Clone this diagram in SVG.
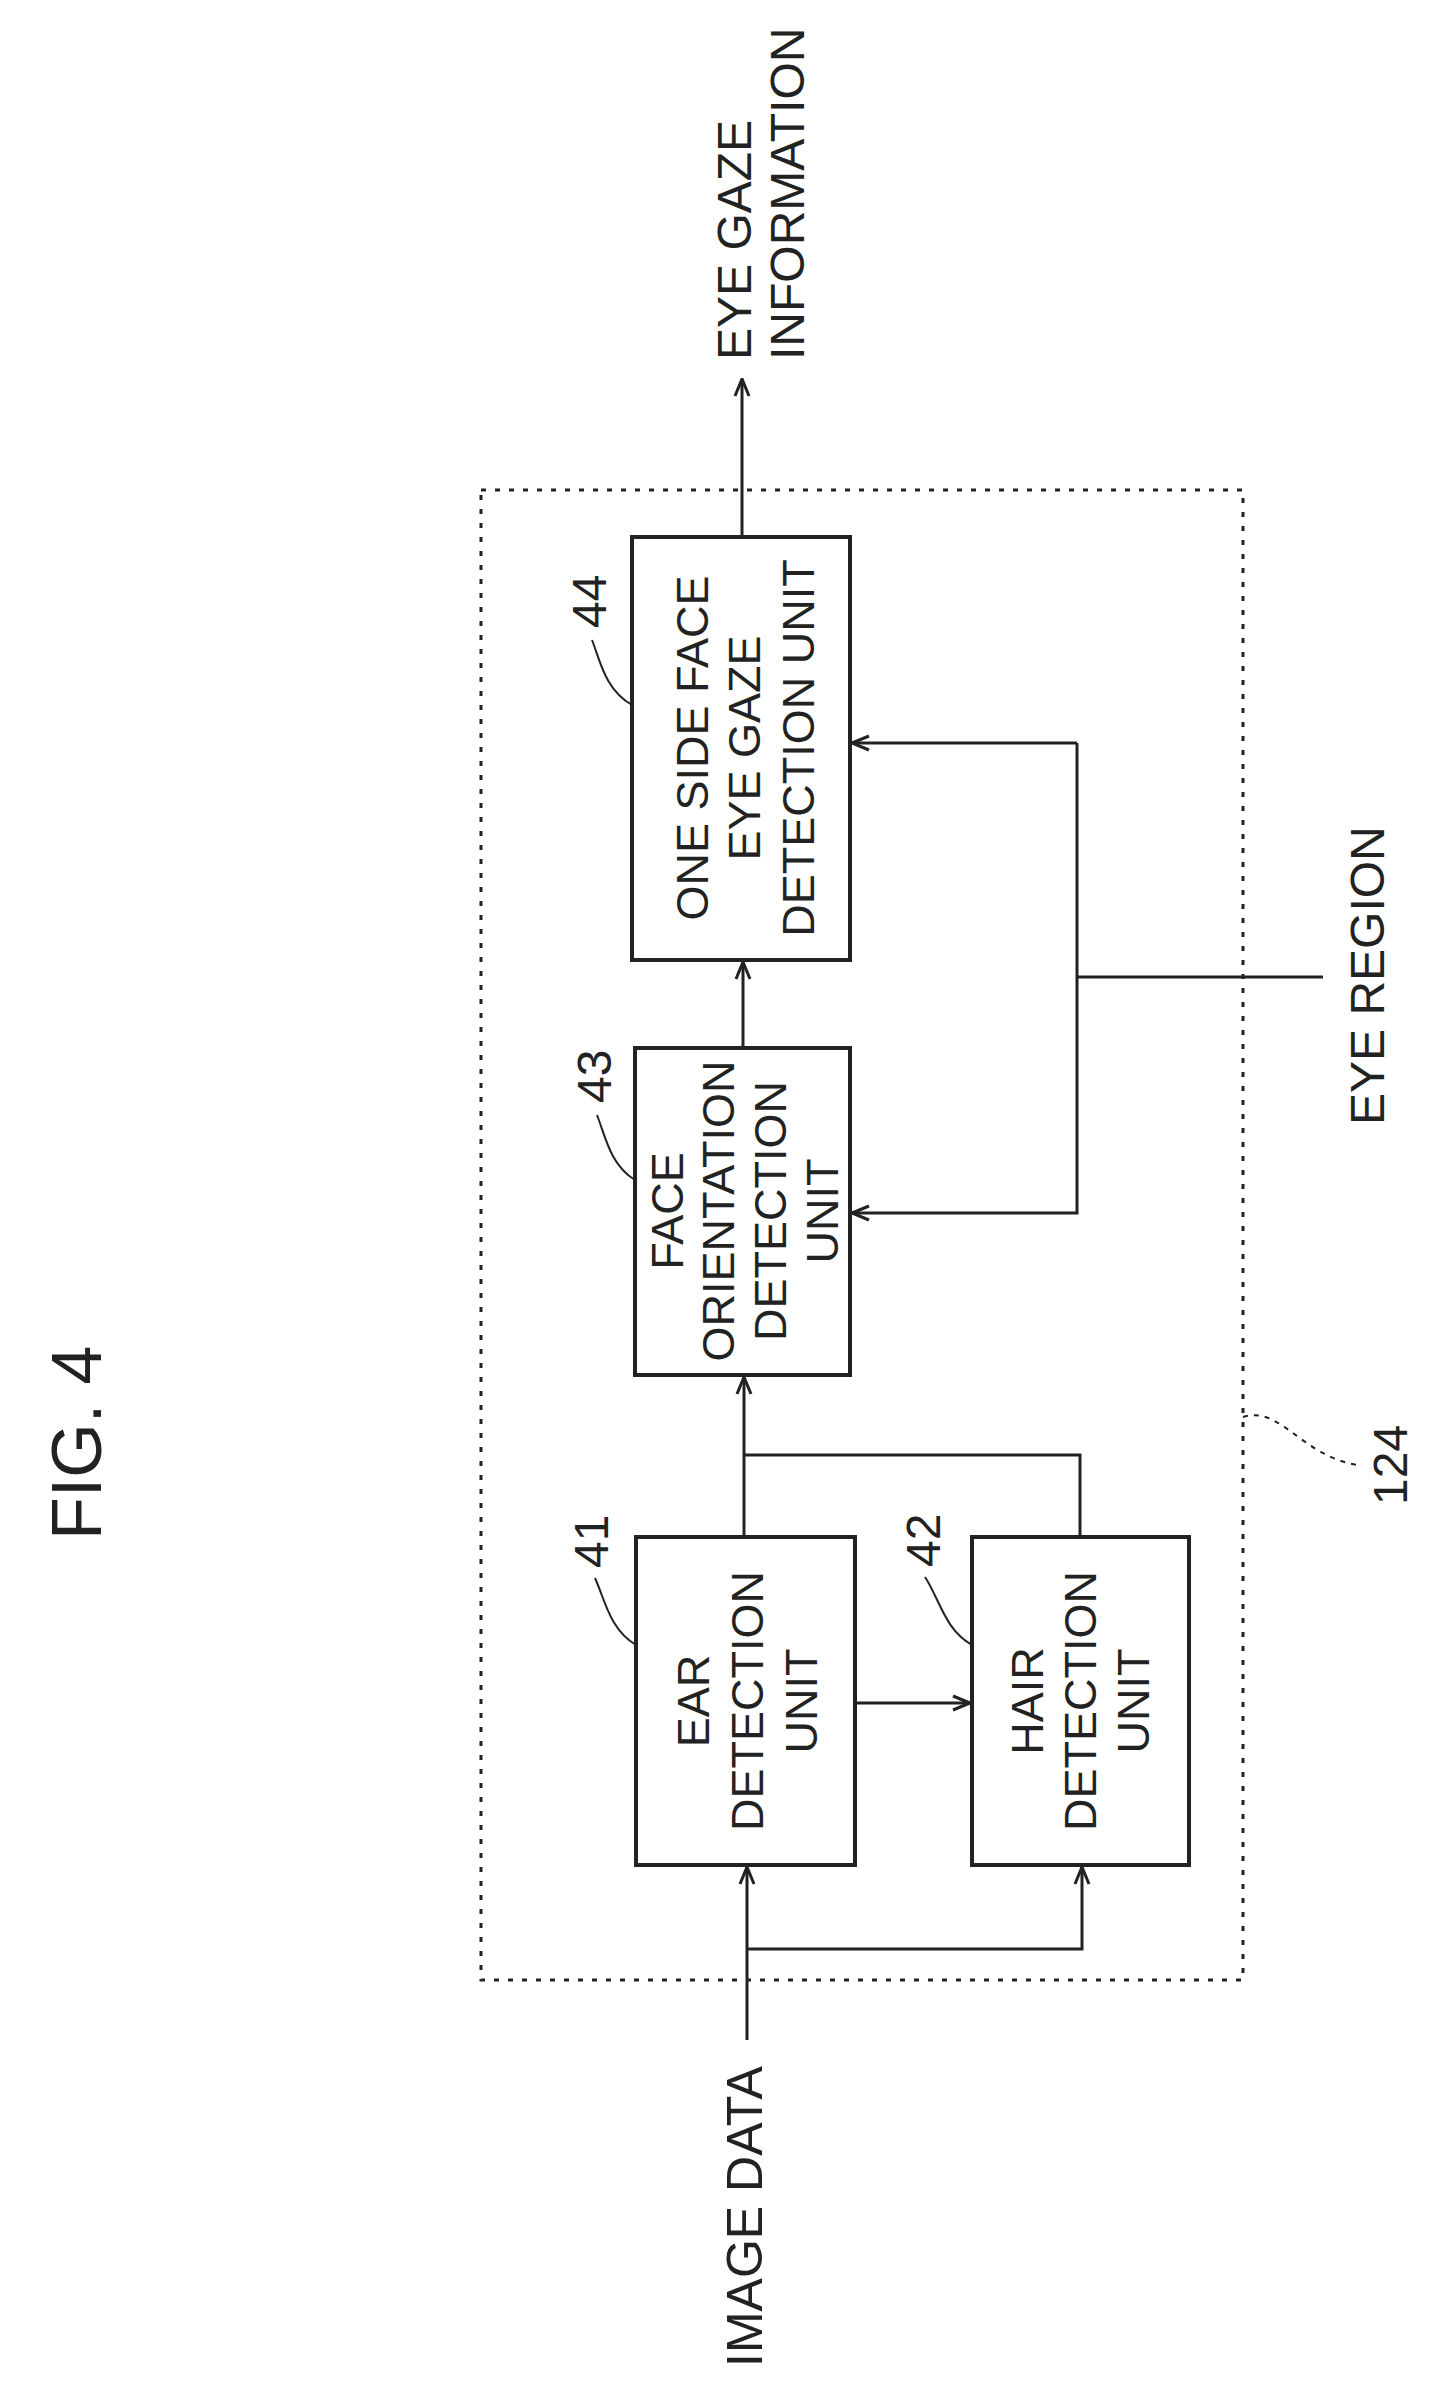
<svg xmlns="http://www.w3.org/2000/svg" width="1430" height="2389" viewBox="0 0 1430 2389">
<style>
.box{fill:none;stroke:#222;stroke-width:4}
.ln{fill:none;stroke:#222;stroke-width:3}
.ld{fill:none;stroke:#222;stroke-width:2}
.t{font-family:"Liberation Sans",Arial,sans-serif;font-size:45px;fill:#222;text-anchor:middle;dominant-baseline:central}
.o{font-family:"Liberation Sans",Arial,sans-serif;font-size:48px;fill:#222}
</style>
<defs>
<marker id="ah" viewBox="0 0 20 20" refX="19" refY="10" markerWidth="20" markerHeight="20" markerUnits="userSpaceOnUse" orient="auto">
<path d="M2,3 L19,10 L2,17" fill="none" stroke="#222" stroke-width="3"/>
</marker>
</defs>
<rect x="0" y="0" width="1430" height="2389" fill="#fff"/>
<g id="frame124">
<rect x="481" y="490" width="762" height="1490" fill="none" stroke="#222" stroke-width="3" stroke-dasharray="5 9"/>
<path class="ld" d="M1243,1417 C1280,1405 1300,1455 1357,1465" stroke-dasharray="5 6"/>
<text class="o" transform="translate(1407,1505) rotate(-90)">124</text>
</g>
<g id="node44">
<rect class="box" x="632" y="537" width="218" height="423"/>
<g transform="translate(742,748) rotate(-90)">
<text class="t" x="0" y="-50">ONE SIDE FACE</text>
<text class="t" x="0" y="2">EYE GAZE</text>
<text class="t" x="0" y="56">DETECTION UNIT</text>
</g>
<path class="ld" d="M632,705 C605,690 600,660 592,640"/>
<text class="o" transform="translate(606,628) rotate(-90)">44</text>
</g>
<g id="node43">
<rect class="box" x="635" y="1048" width="215" height="327"/>
<g transform="translate(744,1211) rotate(-90)">
<text class="t" x="0" y="-77">FACE</text>
<text class="t" x="0" y="-26">ORIENTATION</text>
<text class="t" x="0" y="26">DETECTION</text>
<text class="t" x="0" y="78">UNIT</text>
</g>
<path class="ld" d="M635,1180 C610,1165 605,1135 597,1115"/>
<text class="o" transform="translate(611,1103) rotate(-90)">43</text>
</g>
<g id="node41">
<rect class="box" x="636" y="1537" width="219" height="328"/>
<g transform="translate(745,1701) rotate(-90)">
<text class="t" x="0" y="-52">EAR</text>
<text class="t" x="0" y="2">DETECTION</text>
<text class="t" x="0" y="56">UNIT</text>
</g>
<path class="ld" d="M636,1645 C610,1630 605,1600 595,1578"/>
<text class="o" transform="translate(608,1568) rotate(-90)">41</text>
</g>
<g id="node42">
<rect class="box" x="972" y="1537" width="217" height="328"/>
<g transform="translate(1080,1701) rotate(-90)">
<text class="t" x="0" y="-53">HAIR</text>
<text class="t" x="0" y="0">DETECTION</text>
<text class="t" x="0" y="53">UNIT</text>
</g>
<path class="ld" d="M972,1645 C945,1630 940,1600 925,1577"/>
<text class="o" transform="translate(940,1567) rotate(-90)">42</text>
</g>
<g id="connectors">
<path class="ln" d="M742,537 L742,379" marker-end="url(#ah)"/>
<path class="ln" d="M743,1048 L743,962" marker-end="url(#ah)"/>
<path class="ln" d="M744,1537 L744,1377" marker-end="url(#ah)"/>
<path class="ln" d="M1080,1537 L1080,1455 L744,1455"/>
<path class="ln" d="M855,1703 L970,1703" marker-end="url(#ah)"/>
<path class="ln" d="M747,2040 L747,1867" marker-end="url(#ah)"/>
<path class="ln" d="M747,1949 L1082,1949 L1082,1867" marker-end="url(#ah)"/>
<path class="ln" d="M1077,743 L852,743" marker-end="url(#ah)"/>
<path class="ln" d="M1077,743 L1077,1213 L852,1213" marker-end="url(#ah)"/>
<path class="ln" d="M1077,977 L1323,977"/>
</g>
<g id="labels">
<text class="o" transform="translate(751,360) rotate(-90)">EYE GAZE</text>
<text class="o" transform="translate(804,360) rotate(-90)">INFORMATION</text>
<text class="o" transform="translate(1384,1125) rotate(-90)">EYE REGION</text>
<text class="o" style="font-size:50px" transform="translate(762,2367) rotate(-90)">IMAGE DATA</text>
<text class="o" style="font-size:70px" transform="translate(101,1540) rotate(-90)">FIG. 4</text>
</g>
</svg>
